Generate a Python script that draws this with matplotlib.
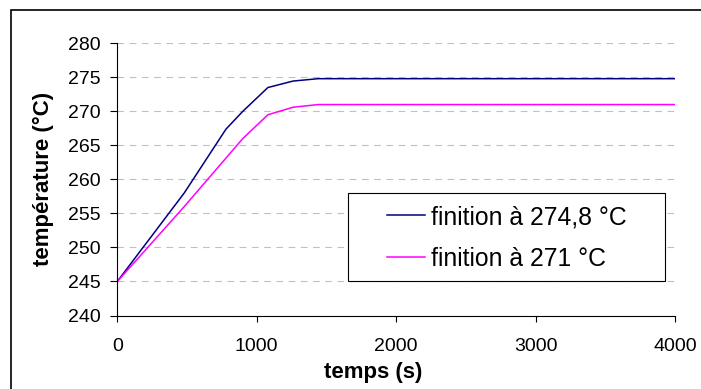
import matplotlib
matplotlib.use('Agg')
import matplotlib.pyplot as plt
from matplotlib.patches import Rectangle

plt.rcParams['font.family'] = ['Liberation Sans', 'DejaVu Sans']

# data
t_274 = [0, 480, 780, 900, 1080, 1260, 1440, 4000]
T_274 = [245, 258, 267.4, 270, 273.5, 274.45, 274.8, 274.8]
t_271 = [0, 480, 900, 1080, 1260, 1440, 4000]
T_271 = [245, 256, 266, 269.5, 270.6, 271, 271]
labels = ['finition à 274,8 °C', 'finition à 271 °C']
xticks = [0, 1000, 2000, 3000, 4000]
yticks = [240, 245, 250, 255, 260, 265, 270, 275, 280]

W, H = 701, 389
fig = plt.figure(figsize=(W / 100, H / 100), dpi=100)
ax = fig.add_axes([117.3 / W, 1 - 315.5 / H, (675 - 117.3) / W, (315.5 - 43.3) / H])

ax.plot(t_274, T_274, color='#000080', lw=1.1, label=labels[0])
ax.plot(t_271, T_271, color='#ff00ff', lw=1.1, label=labels[1])

ax.set_xlim(0, 4000)
ax.set_ylim(240, 280)
ax.set_xticks(xticks)
ax.set_yticks(yticks)
ax.tick_params(axis='x', direction='out', length=4, width=0.8, pad=12, labelsize=14)
ax.tick_params(axis='y', direction='out', length=5, width=0.8, pad=7, labelsize=14)

for s in ['top', 'right']:
    ax.spines[s].set_visible(False)
for s in ['left', 'bottom']:
    ax.spines[s].set_linewidth(0.8)

ax.yaxis.grid(True, color='#c0c0c0', linestyle=(0, (6, 5)), linewidth=0.8)
ax.set_axisbelow(True)

ax.set_xlabel('temps (s)', fontsize=16, fontweight='bold')
ax.xaxis.set_label_coords(0.458, -0.17)
ax.set_ylabel('température (°C)', fontsize=16, fontweight='bold')
ax.yaxis.set_label_coords(-0.114, 0.5)

# legend with a separate white box
fig.add_artist(Rectangle((348.3 / W, 1 - 281 / H), 316.7 / W, 87.7 / H,
                         transform=fig.transFigure, fc='white', ec='black', lw=0.8, zorder=2))
fig.legend(loc='center', bbox_to_anchor=(507 / W, 1 - 238 / H), frameon=False,
           fontsize=17.8, handlelength=1.53, handletextpad=0.27, labelspacing=0.72)

# outer border
fig.add_artist(Rectangle((10.5 / W, -0.1), 1.2, 1.1 - 10.5 / H,
                         transform=fig.transFigure, fill=False, ec='black', lw=1.2))

fig.savefig('out.png', dpi=100)
